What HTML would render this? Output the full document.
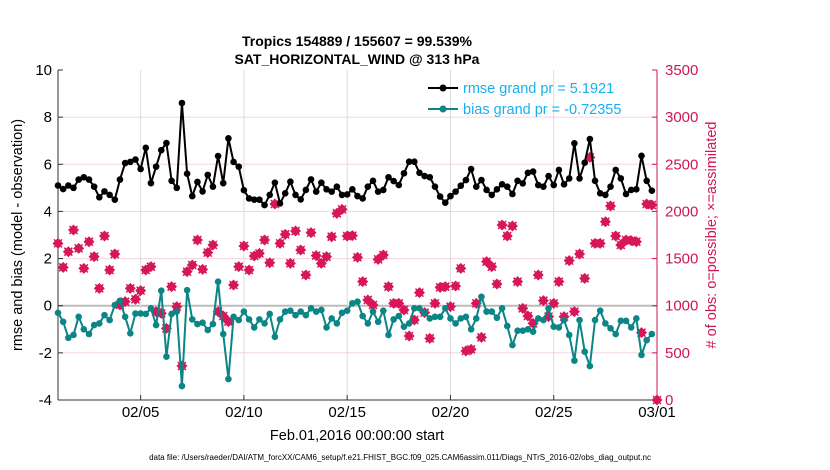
<!DOCTYPE html>
<html><head><meta charset="utf-8">
<style>
html,body{margin:0;padding:0;background:#fff;}
svg{display:block;font-family:"Liberation Sans",sans-serif;}
</style></head>
<body>
<svg id="chart" width="830" height="470" viewBox="0 0 830 470" xmlns="http://www.w3.org/2000/svg">
<text x="357" y="46" text-anchor="middle" font-size="14" font-weight="bold">Tropics 154889 / 155607 = 99.539%</text>
<text x="357" y="64" text-anchor="middle" font-size="14" font-weight="bold">SAT_HORIZONTAL_WIND @ 313 hPa</text>
<g id="grid"></g>
<g id="axes"></g>
<g id="series"></g>
<g id="legend">
  <line x1="428" y1="88" x2="458" y2="88" stroke="#000" stroke-width="2"/>
  <circle cx="443" cy="88" r="3.5" fill="#000"/>
  <text x="463" y="93" font-size="14.5" fill="#1AAFEF">rmse grand pr = 5.1921</text>
  <line x1="428" y1="109" x2="458" y2="109" stroke="#0B8585" stroke-width="2"/>
  <circle cx="443" cy="109" r="3.5" fill="#0B8585"/>
  <text x="463" y="114" font-size="14.5" fill="#1AAFEF">bias grand pr = -0.72355</text>
</g>
<text x="357" y="440" text-anchor="middle" font-size="14.5">Feb.01,2016 00:00:00 start</text>
<text transform="translate(22,235) rotate(-90)" text-anchor="middle" font-size="14.5">rmse and bias (model - observation)</text>
<text transform="translate(716,235) rotate(-90)" text-anchor="middle" font-size="14.5" fill="#D0155A"># of obs: o=possible; ×=assimilated</text>
<text x="400" y="460" text-anchor="middle" font-size="8">data file: /Users/raeder/DAI/ATM_forcXX/CAM6_setup/f.e21.FHIST_BGC.f09_025.CAM6assim.011/Diags_NTrS_2016-02/obs_diag_output.nc</text>
</svg>
<script>
const rmse=[5.1,4.95,5.1,5.0,5.35,5.45,5.35,5.05,4.6,4.85,4.7,4.5,5.35,6.05,6.1,6.2,5.8,6.7,5.2,5.9,6.6,6.9,5.3,5.0,8.6,5.6,4.65,5.25,4.85,5.55,5.05,6.35,5.2,7.1,6.1,5.9,4.9,4.55,4.5,4.5,
4.27,4.7,5.22,4.34,4.77,5.26,4.7,4.51,4.91,5.36,4.84,5.22,4.94,4.84,5.05,4.7,4.72,4.94,4.65,4.55,5.05,5.3,4.84,4.91,5.45,5.29,5.12,5.62,6.11,6.11,5.64,5.5,5.45,5.05,4.63,4.37,4.65,4.84,5.09,
5.33,5.8,5.05,5.33,4.91,4.7,4.94,5.15,5.05,4.74,5.3,5.19,5.64,5.69,5.12,5.05,5.5,5.12,5.76,5.15,5.4,6.89,5.4,6.07,7.07,5.3,4.77,4.7,5.05,5.76,5.4,4.74,4.91,4.94,6.36,5.3,4.88];
const bias=[-0.3,-0.68,-1.36,-1.24,-0.47,-1.0,-1.2,-0.82,-0.75,-0.4,-0.61,0.03,0.21,-0.47,-1.17,-0.33,-0.33,-0.35,-0.11,-0.82,0.64,-2.16,-0.35,-0.25,-3.41,0.66,-0.58,-0.78,-0.72,-1.03,-0.78,1.02,-1.2,-3.11,-0.47,-0.61,-0.25,-0.58,-0.92,-0.58,
-0.75,-0.35,-1.32,-0.58,-0.25,-0.21,-0.4,-0.25,-0.4,-0.11,-0.25,-0.18,-0.92,-0.54,-0.75,-0.3,-0.21,0.1,0.17,-0.44,-0.75,-0.25,-0.68,-0.21,-1.24,-0.58,-0.44,-0.89,-0.75,-0.11,-0.11,-0.3,-0.54,-0.47,-0.47,-0.11,-0.54,-0.75,-0.54,
-0.47,-1.0,-0.54,0.38,-0.25,-0.25,-0.51,-0.11,-0.86,-1.67,-1.06,-1.06,-1.0,-1.1,-0.54,-0.61,-0.11,-0.89,-0.92,-0.61,-1.24,-2.33,-0.61,-1.95,-2.56,-0.61,-0.21,-0.75,-0.96,-1.2,-0.64,-0.64,-0.92,-0.54,-2.09,-1.46,-1.2];
const obsCount=[1661,1407,1573,1803,1608,1396,1679,1520,1184,1739,1379,1548,1008,1043,1184,1068,1160,1379,1414,937,919,760,1202,990,360,1361,1432,1697,1386,1563,1644,937,891,831,1220,1414,1633,1379,1527,1555,
1697,1456,2079,1661,1757,1449,1792,1591,1326,1775,1531,1449,1520,1732,1980,2022,1739,1743,1513,1255,1061,1008,1492,1538,1202,1025,1025,955,679,849,1139,927,654,1025,1195,1202,990,1209,1396,
520,537,1025,664,1467,1414,1230,1856,1739,1845,1255,972,891,813,1326,1054,884,1025,1255,884,1478,937,1548,1290,2573,1661,1661,1891,2058,1739,1644,1697,1690,1679,714,2079,2068,0];
const stepDays=0.25;
const leftTicks=[-4,-2,0,2,4,6,8,10];
const rightTicks=[0,500,1000,1500,2000,2500,3000,3500];
const dateTickDays=[4,9,14,19,24,29];
const dateTickLabels=["02/05","02/10","02/15","02/20","02/25","03/01"];

const X0=58,X1=657,Y0=400,Y1=70,DAYS=29;
const xs=d=>X0+(d/DAYS)*(X1-X0);
const yl=v=>Y0-(v+4)/14*(Y0-Y1);
const yr=c=>Y0-c/3500*(Y0-Y1);
const NS="http://www.w3.org/2000/svg";
function mk(tag,attrs,parent){const e=document.createElementNS(NS,tag);for(const k in attrs)e.setAttribute(k,attrs[k]);parent.appendChild(e);return e;}
const grid=document.getElementById('grid'),axes=document.getElementById('axes'),series=document.getElementById('series');

leftTicks.forEach(v=>{
  if(v!==-4&&v!==10){const l=mk('line',{x1:X0,x2:X1,y1:yl(v),y2:yl(v),stroke:v===0?'#bbbbbb':'#F4D3E1','stroke-width':v===0?2:1},grid);
  
  }
  const t=mk('text',{x:X0-6,y:yl(v)+5,'text-anchor':'end','font-size':15},axes);t.textContent=v;
  
  
  mk('line',{x1:X0,x2:X0+5,y1:yl(v),y2:yl(v),stroke:'#333'},axes);
});
rightTicks.forEach(c=>{
  const t=mk('text',{x:X1+8,y:yr(c)+5,'font-size':15,fill:'#D0155A'},axes);t.textContent=c;
  
  
  mk('line',{x1:X1-5,x2:X1,y1:yr(c),y2:yr(c),stroke:'#D0155A'},axes);
});
dateTickDays.forEach((d,i)=>{
  if(d<DAYS){const l=mk('line',{x1:xs(d),x2:xs(d),y1:Y1,y2:Y0,stroke:'#dddddd'},grid);
  
  }
  mk('line',{x1:xs(d),x2:xs(d),y1:Y0-5,y2:Y0,stroke:'#333'},axes);
  const t=mk('text',{x:xs(d),y:Y0+17,'text-anchor':'middle','font-size':15},axes);t.textContent=dateTickLabels[i];
  
  
});
const la=mk('line',{x1:X0,x2:X0,y1:Y1,y2:Y0,stroke:'#333'},axes);


const ba=mk('line',{x1:X0,x2:X1,y1:Y0,y2:Y0,stroke:'#333'},axes);


const ra=mk('line',{x1:X1,x2:X1,y1:Y1,y2:Y0,stroke:'#D0155A'},axes);



obsCount.forEach((c,i)=>{
  const x=xs(i*stepDays),y=yr(c);
  const g=mk('g',{},series);
  
  
  mk('path',{d:`M${x-5.5} ${y}L${x} ${y-5.5}L${x+5.5} ${y}L${x} ${y+5.5}Z`,fill:'#D6175A'},g);
  mk('path',{d:`M${x-4} ${y-4}L${x+4} ${y+4}M${x-4} ${y+4}L${x+4} ${y-4}`,stroke:'#D6175A','stroke-width':1.5},g);
});
function drawLine(arr,color,name){
  const p=mk('polyline',{points:arr.map((v,i)=>xs(i*stepDays)+','+yl(v)).join(' '),fill:'none',stroke:color,'stroke-width':2},series);
  
  
  arr.forEach((v,i)=>{
    const c=mk('circle',{cx:xs(i*stepDays),cy:yl(v),r:3.3,fill:color},series);
    
    
  });
}
drawLine(bias,'#0B8585','bias');
drawLine(rmse,'#000000','rmse');
</script>
</body></html>
